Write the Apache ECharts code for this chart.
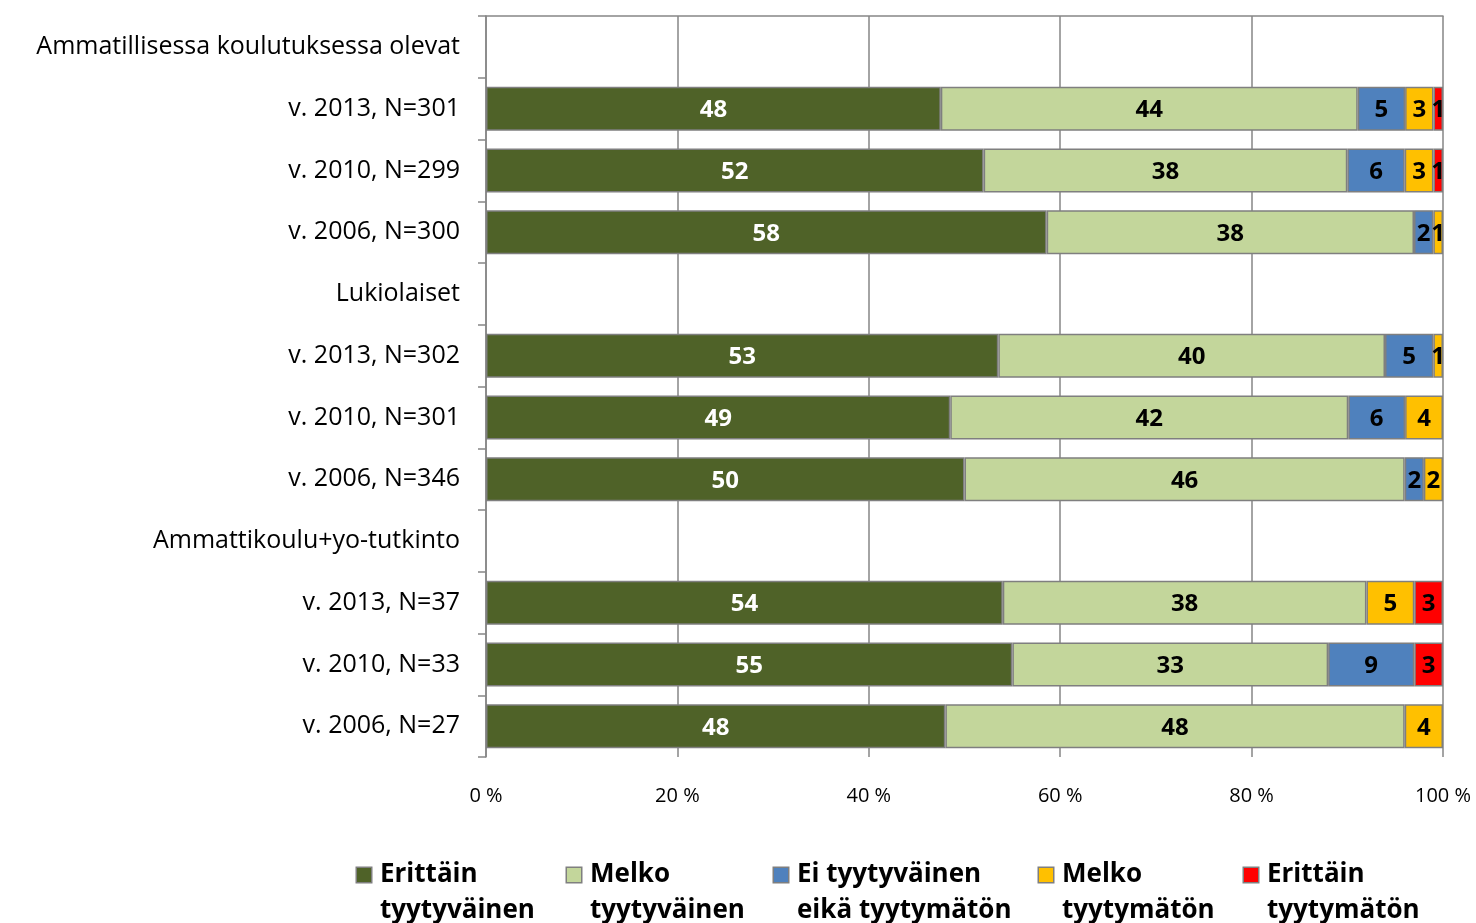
<!DOCTYPE html>
<html><head><meta charset="utf-8">
<script src="https://cdn.jsdelivr.net/npm/echarts@6/dist/echarts.min.js"></script>
<style>html,body{margin:0;padding:0;background:#fff}#c{width:1476px;height:923px}</style>
</head><body><div id="c"></div>
<script>
var categories = ['Ammatillisessa koulutuksessa olevat','v. 2013, N=301','v. 2010, N=299','v. 2006, N=300','Lukiolaiset','v. 2013, N=302','v. 2010, N=301','v. 2006, N=346','Ammattikoulu+yo-tutkinto','v. 2013, N=37','v. 2010, N=33','v. 2006, N=27'];
var seriesNames = ['Erittäin\ntyytyväinen','Melko\ntyytyväinen','Ei tyytyväinen\neikä tyytymätön','Melko\ntyytymätön','Erittäin\ntyytymätön'];
var erittainTyytyvainen = [null,48,52,58,null,53,49,50,null,54,55,48];
var melkoTyytyvainen    = [null,44,38,38,null,40,42,46,null,38,33,48];
var eiKumpikaan         = [null,5,6,2,null,5,6,2,null,0,9,0];
var melkoTyytymaton     = [null,3,3,1,null,1,4,2,null,5,0,4];
var erittainTyytymaton  = [null,1,1,0,null,0,0,0,null,3,3,0];
var xTicks = [0,20,40,60,80,100];
var colors = ['#4F6228','#C3D69B','#4F81BD','#FFC000','#FF0000'];
var raw = [erittainTyytyvainen,melkoTyytyvainen,eiKumpikaan,melkoTyytymaton,erittainTyytymaton];
var sums = categories.map(function(_,i){var s=0;raw.forEach(function(a){s+=a[i]||0});return s;});
var FONT = '"Open Sans"';
var series = raw.map(function(arr,k){
  return {
    name: seriesNames[k], type:'bar', stack:'all', barWidth:44,
    itemStyle:{color:colors[k], borderColor:'#7F7F7F', borderWidth:1.5},
    label:{show:true, position:'inside', fontFamily:FONT, fontWeight:'bold', fontSize:24, offset:[0,2],
      color: k===0?'#fff':'#000',
      formatter:function(p){var v=arr[p.dataIndex];return v?String(v):'';}},
    data: arr.map(function(v,i){return (v===null||v===0)?null:v/sums[i]*100;})
  };
});
var legendX = [346,556,763,1028,1233];
var legends = seriesNames.map(function(n,k){
  return {data:[n], left:legendX[k], top:852, orient:'horizontal', itemWidth:0, itemHeight:0, icon:'rect',
    itemStyle:{opacity:0},
    formatter:function(name){var p=name.split('\n');return '{box|}{g|}{t|'+p[0]+'}\n{g2|}{t|'+p[1]+'}';},
    textStyle:{fontFamily:FONT, fontWeight:'bold', fontSize:26, color:'#000', lineHeight:36,
      rich:{
        box:{width:14,height:14,backgroundColor:colors[k],borderColor:'#7F7F7F',borderWidth:1.5,verticalAlign:'middle'},
        g:{width:9},
        g2:{width:23},
        t:{fontFamily:FONT, fontWeight:'bold', fontSize:26, color:'#000', lineHeight:36}
      }},
    selectedMode:false};
});
var chart = echarts.init(document.getElementById('c'),null,{renderer:'canvas'});
chart.setOption({
  animation:false,
  color:colors,
  grid:{left:486, right:33, top:16, bottom:166, containLabel:false},
  legend:legends,
  xAxis:[{type:'value', min:0, max:100, interval:20, position:'bottom',
    axisLine:{show:false}, axisTick:{show:false},
    splitLine:{show:true, lineStyle:{color:'#868686', width:1.5}},
    axisLabel:{margin:29, fontFamily:FONT, fontSize:20, color:'#000', formatter:function(v){return xTicks.indexOf(v)>=0? v+' %':'';}}},
    {type:'value', min:0, max:100, position:'top', axisLine:{show:true, lineStyle:{color:'#868686', width:1.5}},
    axisTick:{show:false}, axisLabel:{show:false}, splitLine:{show:false}}],
  yAxis:{type:'category', inverse:true, data:categories,
    axisLine:{show:true, lineStyle:{color:'#868686', width:1.5}},
    axisTick:{show:true, length:8, lineStyle:{color:'#868686', width:1.5}},
    axisLabel:{margin:26, fontFamily:FONT, fontSize:25, color:'#000', padding:[7,0,0,0]}},
  series:series
});
</script></body></html>
